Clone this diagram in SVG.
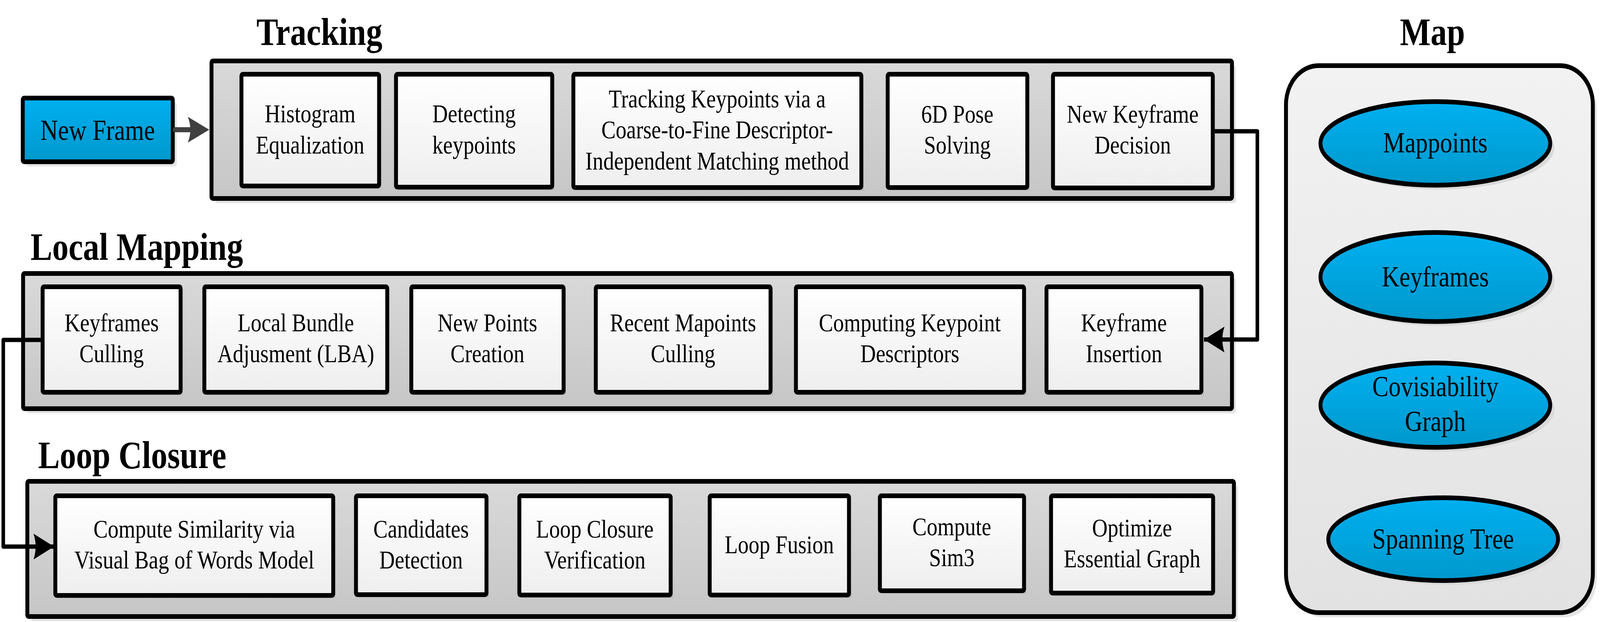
<svg xmlns="http://www.w3.org/2000/svg" width="4917" height="1592" viewBox="0 0 4917 1592" preserveAspectRatio="none">
<defs>
<linearGradient id="gBox" x1="0" y1="0" x2="0" y2="1"><stop offset="0" stop-color="#ffffff"/><stop offset="1" stop-color="#eeeeee"/></linearGradient>
<linearGradient id="gCont" x1="0" y1="0" x2="0" y2="1"><stop offset="0" stop-color="#d9d9d9"/><stop offset="1" stop-color="#c6c6c6"/></linearGradient>
<linearGradient id="gMap" x1="0" y1="0" x2="0" y2="1"><stop offset="0" stop-color="#f2f2f2"/><stop offset="1" stop-color="#e2e2e2"/></linearGradient>
<linearGradient id="gBlue" x1="0" y1="0" x2="0" y2="1"><stop offset="0" stop-color="#00b0f0"/><stop offset="1" stop-color="#0098cc"/></linearGradient>
<marker id="arrK" markerUnits="userSpaceOnUse" viewBox="-64 -34 66 68" refX="0" refY="0" markerWidth="66" markerHeight="68" orient="auto">
<path d="M0,0 L-63,-33 Q-50,0 -63,33 Z" fill="#000"/>
</marker>
<marker id="arrG" markerUnits="userSpaceOnUse" viewBox="-67 -34 68 68" refX="0" refY="0" markerWidth="68" markerHeight="68" orient="auto">
<path d="M0,0 L-66,-33 Q-50,0 -66,33 Z" fill="#404040"/>
</marker>
</defs>
<style>
svg:root{width:100vw;height:100vh}
.cont{fill:url(#gCont);stroke:#000;stroke-width:12}
.box{fill:url(#gBox);stroke:#000;stroke-width:12}
.sh{fill:#e4e4e4}
.ish{fill:#000;fill-opacity:0.05}
.ell{fill:url(#gBlue);stroke:#000;stroke-width:12}
.esh{fill:#d9d9d9}
.t{font-family:"Liberation Serif","Times New Roman",serif;font-size:66px;fill:#000;text-anchor:middle}
.tm{font-family:"Liberation Serif","Times New Roman",serif;font-size:75px;fill:#000;text-anchor:middle}
.title{font-family:"Liberation Serif","Times New Roman",serif;font-size:100px;font-weight:bold;fill:#000}
.con{fill:none;stroke:#000;stroke-width:11;stroke-linejoin:round}
</style>
<rect width="4917" height="1592" fill="#fff"/>

<!-- titles -->
<text class="title" x="788" y="115">Tracking</text>
<text class="title" x="94" y="665">Local Mapping</text>
<text class="title" x="117" y="1198">Loop Closure</text>
<text class="title" x="4302" y="115">Map</text>

<!-- New Frame -->
<g id="new-frame">
<rect class="sh" x="82" y="263" width="461" height="163" rx="5"/>
<rect x="70" y="251" width="461" height="163" rx="4" fill="url(#gBlue)" stroke="#000" stroke-width="12"/>
<text class="tm" x="300" y="358">New Frame</text>
</g>

<!-- Tracking -->
<g id="tracking">
<rect class="sh" x="662" y="168" width="3136" height="352" rx="5"/>
<rect class="cont" x="650" y="156" width="3136" height="352" rx="4"/>
<g id="histogram">
<rect class="ish" x="750" y="198" width="423" height="286"/>
<rect class="box" x="742" y="190" width="423" height="286" rx="4"/>
<text class="t" x="953" y="313">Histogram</text><text class="t" x="953" y="393">Equalization</text>
</g>
<g id="detecting">
<rect class="ish" x="1225" y="198" width="480" height="289"/>
<rect class="box" x="1217" y="190" width="480" height="289" rx="4"/>
<text class="t" x="1457" y="313">Detecting</text><text class="t" x="1457" y="393">keypoints</text>
</g>
<g id="tracking-keypoints">
<rect class="ish" x="1770" y="198" width="885" height="290"/>
<rect class="box" x="1762" y="190" width="885" height="290" rx="4"/>
<text class="t" x="2204" y="275">Tracking Keypoints via a</text><text class="t" x="2204" y="354">Coarse-to-Fine Descriptor-</text><text class="t" x="2204" y="434">Independent Matching method</text>
</g>
<g id="pose-solving">
<rect class="ish" x="2736" y="198" width="429" height="290"/>
<rect class="box" x="2728" y="190" width="429" height="290" rx="4"/>
<text class="t" x="2942" y="314">6D Pose</text><text class="t" x="2942" y="393">Solving</text>
</g>
<g id="new-keyframe-decision">
<rect class="ish" x="3244" y="198" width="491" height="291"/>
<rect class="box" x="3236" y="190" width="491" height="291" rx="4"/>
<text class="t" x="3481" y="314">New Keyframe</text><text class="t" x="3481" y="393">Decision</text>
</g>
</g>

<!-- Local Mapping -->
<g id="local-mapping">
<rect class="sh" x="83" y="712" width="3715" height="346" rx="5"/>
<rect class="cont" x="71" y="700" width="3715" height="346" rx="4"/>
<g id="keyframes-culling">
<rect class="ish" x="139" y="742" width="424" height="270"/>
<rect class="box" x="131" y="734" width="424" height="270" rx="4"/>
<text class="t" x="343" y="848">Keyframes</text><text class="t" x="343" y="927">Culling</text>
</g>
<g id="local-bundle">
<rect class="ish" x="636" y="742" width="562" height="270"/>
<rect class="box" x="628" y="734" width="562" height="270" rx="4"/>
<text class="t" x="909" y="848">Local Bundle</text><text class="t" x="909" y="927">Adjusment (LBA)</text>
</g>
<g id="new-points">
<rect class="ish" x="1272" y="742" width="468" height="270"/>
<rect class="box" x="1264" y="734" width="468" height="270" rx="4"/>
<text class="t" x="1498" y="848">New Points</text><text class="t" x="1498" y="927">Creation</text>
</g>
<g id="recent-mappoints">
<rect class="ish" x="1839" y="742" width="537" height="270"/>
<rect class="box" x="1831" y="734" width="537" height="270" rx="4"/>
<text class="t" x="2099" y="848">Recent Mapoints</text><text class="t" x="2099" y="927">Culling</text>
</g>
<g id="computing-descriptors">
<rect class="ish" x="2454" y="742" width="701" height="270"/>
<rect class="box" x="2446" y="734" width="701" height="270" rx="4"/>
<text class="t" x="2796" y="848">Computing Keypoint</text><text class="t" x="2796" y="927">Descriptors</text>
</g>
<g id="keyframe-insertion">
<rect class="ish" x="3224" y="742" width="476" height="270"/>
<rect class="box" x="3216" y="734" width="476" height="270" rx="4"/>
<text class="t" x="3454" y="848">Keyframe</text><text class="t" x="3454" y="927">Insertion</text>
</g>
</g>

<!-- Loop Closure -->
<g id="loop-closure">
<rect class="sh" x="96" y="1244" width="3708" height="346" rx="5"/>
<rect class="cont" x="84" y="1232" width="3708" height="346" rx="4"/>
<g id="compute-similarity">
<rect class="ish" x="178" y="1277" width="854" height="255"/>
<rect class="box" x="170" y="1269" width="854" height="255" rx="4"/>
<text class="t" x="597" y="1376">Compute Similarity via</text><text class="t" x="597" y="1455">Visual Bag of Words Model</text>
</g>
<g id="candidates-detection">
<rect class="ish" x="1102" y="1277" width="401" height="253"/>
<rect class="box" x="1094" y="1269" width="401" height="253" rx="4"/>
<text class="t" x="1294" y="1376">Candidates</text><text class="t" x="1294" y="1455">Detection</text>
</g>
<g id="loop-verification">
<rect class="ish" x="1604" y="1277" width="465" height="254"/>
<rect class="box" x="1596" y="1269" width="465" height="254" rx="4"/>
<text class="t" x="1828" y="1376">Loop Closure</text><text class="t" x="1828" y="1455">Verification</text>
</g>
<g id="loop-fusion">
<rect class="ish" x="2189" y="1277" width="428" height="254"/>
<rect class="box" x="2181" y="1269" width="428" height="254" rx="4"/>
<text class="t" x="2395" y="1416">Loop Fusion</text>
</g>
<g id="compute-sim3">
<rect class="ish" x="2712" y="1277" width="443" height="243"/>
<rect class="box" x="2704" y="1269" width="443" height="243" rx="4"/>
<text class="t" x="2925" y="1370">Compute</text><text class="t" x="2925" y="1449">Sim3</text>
</g>
<g id="optimize-essential">
<rect class="ish" x="3238" y="1277" width="498" height="249"/>
<rect class="box" x="3230" y="1269" width="498" height="249" rx="4"/>
<text class="t" x="3479" y="1373">Optimize</text><text class="t" x="3479" y="1452">Essential Graph</text>
</g>
</g>

<!-- Map -->
<g id="map">
<rect class="sh" x="3964" y="180" width="943" height="1400" rx="100"/>
<rect x="3952" y="168" width="943" height="1400" rx="100" fill="url(#gMap)" stroke="#000" stroke-width="12"/>
<g id="mappoints">
<ellipse class="esh" cx="4424" cy="378" rx="353" ry="107"/>
<ellipse class="ell" cx="4411" cy="367" rx="353" ry="107"/>
<text class="tm" x="4411" y="390">Mappoints</text>
</g>
<g id="keyframes">
<ellipse class="esh" cx="4424" cy="720" rx="353" ry="114"/>
<ellipse class="ell" cx="4411" cy="709" rx="353" ry="114"/>
<text class="tm" x="4411" y="733">Keyframes</text>
</g>
<g id="covisibility">
<ellipse class="esh" cx="4424" cy="1048" rx="353" ry="108"/>
<ellipse class="ell" cx="4411" cy="1037" rx="353" ry="108"/>
<text class="tm" x="4411" y="1014">Covisiability</text><text class="tm" x="4411" y="1103">Graph</text>
</g>
<g id="spanning-tree">
<ellipse class="esh" cx="4448" cy="1391" rx="353" ry="106"/>
<ellipse class="ell" cx="4435" cy="1380" rx="353" ry="106"/>
<text class="tm" x="4435" y="1404">Spanning Tree</text>
</g>
</g>

<!-- connectors -->
<g id="connectors">
<path d="M537,332 H590" fill="none" stroke="#404040" stroke-width="13" stroke-linecap="round"/>
<path d="M590,332 H643" fill="none" stroke="none" marker-end="url(#arrG)"/>
<path class="con" d="M3733,336 H3864 V869 H3700" marker-end="url(#arrK)"/>
<path class="con" d="M125,870 H10 V1399 H166" marker-end="url(#arrK)"/>
</g>
</svg>
